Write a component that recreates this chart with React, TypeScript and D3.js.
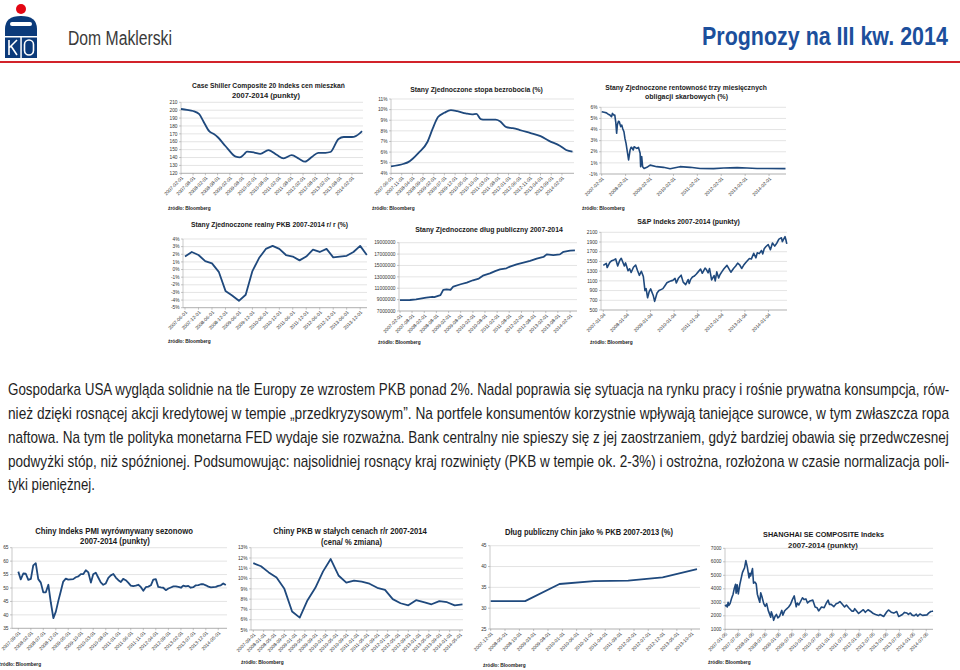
import React, { useLayoutEffect, useRef, useState } from 'react';
import * as d3 from 'd3';

// ---------------- DATA ----------------
// 1. Case Shiller Composite 20
const csDates = ['2007-02-01','2007-05-01','2007-08-01','2007-11-01','2008-01-01','2008-04-01','2008-06-01','2008-08-01','2008-11-01','2009-01-01','2009-05-01','2009-07-01','2009-09-01','2009-10-15','2010-02-01','2010-05-01','2010-09-01','2011-01-01','2011-04-15','2011-08-15','2011-12-01','2012-03-01','2012-06-15','2012-09-15','2013-01-01','2013-03-15','2013-07-15','2013-10-01','2014-02-01','2014-06-01','2014-07-01'];
const csValues = [201.5,200.5,199,195,186,173,170,166,157,151,141,140.3,144,147.5,146.3,144.5,149.5,143.5,139,143,138.5,134.8,141,146,146,147,163.5,166,166,171,173.5];
const csXLabels = ['2007-02-01','2007-08-01','2008-02-01','2008-08-01','2009-02-01','2009-08-01','2010-02-01','2010-08-01','2011-02-01','2011-08-01','2012-02-01','2012-08-01','2013-02-01','2013-08-01','2014-02-01'];
const csYTicks = [120,130,140,150,160,170,180,190,200,210];

// 2. Unemployment
const unDates = ['2007-06-01','2007-12-01','2008-02-01','2008-04-01','2008-07-01','2008-11-01','2009-01-15','2009-04-01','2009-07-01','2009-10-01','2010-01-01','2010-05-01','2010-08-01','2010-10-01','2010-12-01','2011-02-01','2011-07-01','2011-09-01','2011-12-01','2012-03-01','2012-06-01','2012-11-01','2013-04-01','2013-08-01','2014-01-01','2014-04-01','2014-07-01'];
const unValues = [4.65,4.9,5.05,5.35,5.95,6.95,8.2,9.3,9.7,9.95,9.85,9.65,9.55,9.6,9.1,9.05,9.05,8.9,8.35,8.25,8.1,7.8,7.5,7.05,6.6,6.2,6.05];
const unXLabels = ['2007-06-01','2007-11-01','2008-04-01','2008-09-01','2009-02-01','2009-07-01','2009-12-01','2010-05-01','2010-10-01','2011-03-01','2011-08-01','2012-01-01','2012-06-01','2012-11-01','2013-04-01','2013-09-01','2014-02-01'];
const unYTicks = [4,5,6,7,8,9,10,11];

// 3. 3M treasury bills (positions on the printed grid)
const tbDates = ['2007-02-01','2007-03-10','2007-04-15','2007-05-20','2007-06-07','2007-07-01','2007-07-15','2007-08-05','2007-08-20','2007-09-05','2007-09-17','2007-09-28','2007-10-15','2007-10-28','2007-11-18','2007-12-05','2007-12-18','2008-01-07','2008-01-22','2008-02-08','2008-02-28','2008-03-18','2008-04-10','2008-04-25','2008-05-04','2008-05-28','2008-06-10','2008-06-25','2008-07-20','2008-08-15','2008-09-10','2008-09-18','2008-10-04','2008-10-18','2008-11-10','2008-12-22','2009-02-10','2009-05-22','2009-09-01','2009-12-12','2010-05-12','2010-10-15','2011-03-15','2011-10-07','2012-03-10','2012-10-01','2013-03-01','2013-08-01','2014-01-01','2014-10-10'];
const tbValues = [5.6,5.55,5.5,5.35,5.3,5.15,5.45,5.3,5.3,4.6,3.66,4.4,4.75,4.7,4.26,4.4,4.1,3.8,3.2,2.76,2.0,1.26,2.16,2.4,2.4,2.16,2.45,2.4,2.3,2.4,1.86,0.66,1.56,0.66,0.5,0.6,0.8,0.66,0.6,0.48,0.66,0.6,0.5,0.48,0.54,0.57,0.54,0.5,0.5,0.48];
const tbXLabels = ['2007-02-01','2008-02-01','2009-02-01','2010-02-01','2011-02-01','2012-02-01','2013-02-01','2014-02-01'];
const tbYTicks = [0,1,2,3,4,5,6];
const tbYLabels = ['-1%','1%','2%','3%','4%','5%','6%'];

// 4. US real GDP y/y (quarterly)
const gdpDates = ['2007-06-01','2007-09-01','2007-12-01','2008-03-01','2008-06-01','2008-09-01','2008-12-01','2009-03-01','2009-06-01','2009-09-01','2009-12-01','2010-03-01','2010-06-01','2010-09-01','2010-12-01','2011-03-01','2011-06-01','2011-09-01','2011-12-01','2012-03-01','2012-06-01','2012-09-01','2012-12-01','2013-03-01','2013-06-01','2013-09-01','2013-12-01','2014-03-01'];
const gdpValues = [1.7,2.3,1.9,1.1,0.8,-0.3,-2.8,-3.4,-4.1,-3.3,-0.2,1.5,2.7,3.1,2.7,1.9,1.7,1.2,1.7,2.6,2.3,2.7,1.6,1.7,1.8,2.3,3.1,1.9];
const gdpXLabels = ['2007-06-01','2007-12-01','2008-06-01','2008-12-01','2009-06-01','2009-12-01','2010-06-01','2010-12-01','2011-06-01','2011-12-01','2012-06-01','2012-12-01','2013-06-01','2013-12-01'];
const gdpYTicks = [-5,-4,-3,-2,-1,0,1,2,3,4];

// 5. US public debt (millions of millions)
const debtDates = ['2007-02-01','2007-07-01','2007-10-01','2008-03-01','2008-06-01','2008-07-01','2008-10-01','2008-11-12','2009-01-01','2009-03-01','2009-04-12','2009-08-01','2009-11-01','2010-02-01','2010-05-01','2010-07-01','2010-10-15','2011-01-01','2011-03-15','2011-06-20','2011-08-12','2011-11-20','2012-03-01','2012-06-10','2012-09-18','2012-12-28','2013-02-15','2013-05-25','2013-09-01','2013-10-25','2014-02-01','2014-04-15'];
const debtValues = [8.9,8.93,9.05,9.34,9.5,9.45,9.8,10.7,10.8,10.7,11.3,11.7,12.0,12.4,12.7,13.2,13.6,14.0,14.3,14.5,14.8,15.2,15.5,15.8,16.2,16.5,16.95,16.83,16.95,17.4,17.6,17.65];
const debtXLabels = ['2007-02-01','2007-08-01','2008-02-01','2008-08-01','2009-02-01','2009-08-01','2010-02-01','2010-08-01','2011-02-01','2011-08-01','2012-02-01','2012-08-01','2013-02-01','2013-08-01','2014-02-01'];
const debtYTicks = [7,9,11,13,15,17,19];
const debtYLabels = ['7000000','9000000','11000000','13000000','15000000','17000000','19000000'];

// 6. S&P 500
const spDates = ['2007-01-04','2007-02-20','2007-03-05','2007-04-15','2007-05-15','2007-06-15','2007-07-15','2007-08-15','2007-09-15','2007-10-09','2007-11-26','2007-12-15','2008-01-22','2008-02-15','2008-03-10','2008-04-15','2008-05-19','2008-06-15','2008-07-15','2008-08-15','2008-09-15','2008-10-10','2008-10-28','2008-11-20','2008-12-15','2009-01-06','2009-02-15','2009-03-09','2009-04-15','2009-05-15','2009-06-15','2009-07-15','2009-08-15','2009-09-15','2009-10-15','2009-11-15','2009-12-15','2010-01-19','2010-02-08','2010-03-15','2010-04-23','2010-05-25','2010-07-02','2010-08-09','2010-08-26','2010-09-15','2010-10-15','2010-11-15','2010-12-15','2011-01-15','2011-02-18','2011-03-16','2011-04-29','2011-05-15','2011-06-15','2011-07-07','2011-08-08','2011-09-15','2011-10-03','2011-10-27','2011-11-25','2011-12-15','2012-01-15','2012-02-15','2012-04-02','2012-06-01','2012-07-15','2012-08-15','2012-09-14','2012-10-15','2012-11-15','2012-12-15','2013-01-15','2013-02-15','2013-03-15','2013-04-15','2013-05-21','2013-06-24','2013-07-15','2013-08-15','2013-09-18','2013-10-08','2013-10-30','2013-11-27','2013-12-31','2014-02-03','2014-03-07','2014-04-11','2014-05-15','2014-06-15','2014-07-24','2014-08-07','2014-09-18','2014-10-01','2014-10-15'];
const spValues = [1418,1459,1374,1480,1515,1530,1552,1406,1520,1565,1407,1470,1310,1350,1273,1380,1426,1320,1214,1298,1190,899,940,752,880,935,800,677,850,900,920,940,1000,1060,1080,1100,1110,1150,1057,1160,1217,1074,1022,1127,1047,1125,1180,1200,1242,1290,1343,1256,1363,1340,1265,1353,1119,1210,1099,1285,1159,1225,1290,1350,1419,1278,1360,1405,1466,1430,1355,1420,1472,1520,1560,1552,1669,1573,1680,1661,1725,1655,1763,1807,1848,1741,1878,1815,1880,1960,1987,1909,2011,1946,1862];
const spXLabels = ['2007-01-04','2008-01-04','2009-01-04','2010-01-04','2011-01-04','2012-01-04','2013-01-04','2014-01-04'];
const spYTicks = [500,700,900,1100,1300,1500,1700,1900,2100];

// 7. China PMI (monthly from 2007-09)
const pmiStart = '2007-09-01';
const pmiValues = [56.1,53.2,55.4,55.3,
  53.0,53.4,58.4,59.2,53.3,52.0,48.4,48.4,51.2,44.6,38.8,41.2,
  45.3,49.0,52.4,53.5,53.1,53.2,53.3,54.0,54.3,55.2,55.2,56.6,
  55.8,52.0,55.1,55.7,53.9,52.1,51.2,51.7,53.8,54.7,55.2,53.9,
  52.9,52.2,53.4,52.9,52.0,50.9,50.7,50.9,51.2,50.4,49.0,50.3,
  50.5,51.0,53.1,53.3,50.4,50.2,50.1,49.2,49.8,50.2,50.6,50.6,
  50.4,50.1,50.9,50.6,50.8,50.1,50.3,51.0,51.1,51.4,51.4,51.0,
  50.5,50.2,50.3,50.4,50.8,51.0,51.7,51.1];
const pmiXLabels = ['2007-09-01','2008-02-01','2008-07-01','2008-12-01','2009-05-01','2009-10-01','2010-03-01','2010-08-01','2011-01-01','2011-06-01','2011-11-01','2012-04-01','2012-09-01','2013-02-01','2013-07-01','2013-12-01','2014-05-01'];
const pmiYTicks = [35,40,45,50,55,60,65];

// 8. China GDP y/y (quarterly)
const cgDates = ['2007-09-01','2007-12-01','2008-03-01','2008-06-01','2008-09-01','2008-12-01','2009-03-01','2009-06-01','2009-09-01','2009-12-01','2010-03-01','2010-06-01','2010-09-01','2010-12-01','2011-03-01','2011-06-01','2011-09-01','2011-12-01','2012-03-01','2012-06-01','2012-09-01','2012-12-01','2013-03-01','2013-06-01','2013-09-01','2013-12-01','2014-03-01','2014-06-01'];
const cgValues = [11.5,11.2,10.6,10.1,9.0,6.8,6.2,7.9,9.1,10.7,11.9,10.3,9.6,9.8,9.7,9.5,9.1,8.9,8.0,7.6,7.4,7.9,7.7,7.5,7.8,7.7,7.4,7.5];
const cgXLabels = ['2007-09-01','2008-01-01','2008-05-01','2008-09-01','2009-01-01','2009-05-01','2009-09-01','2010-01-01','2010-05-01','2010-09-01','2011-01-01','2011-05-01','2011-09-01','2012-01-01','2012-05-01','2012-09-01','2013-01-01','2013-05-01','2013-09-01','2014-01-01','2014-05-01'];
const cgYTicks = [5,6,7,8,9,10,11,12,13];

// 9. China public debt % GDP
const cdDates = ['2007-12-01','2008-12-01','2009-12-01','2010-12-01','2011-12-01','2012-12-01','2013-12-01'];
const cdValues = [31.7,31.7,35.8,36.5,36.6,37.4,39.4];
const cdXLabels = ['2007-12-01','2008-05-01','2008-10-01','2009-03-01','2009-08-01','2010-01-01','2010-06-01','2010-11-01','2011-04-01','2011-09-01','2012-02-01','2012-07-01','2012-12-01','2013-05-01','2013-10-01'];
const cdYTicks = [25,30,35,40,45];

// 10. Shanghai SE Composite
const shDates = ['2007-01-05','2007-01-25','2007-02-05','2007-02-16','2007-02-27','2007-03-15','2007-04-05','2007-04-25','2007-05-10','2007-05-29','2007-06-05','2007-06-20','2007-07-05','2007-07-25','2007-08-10','2007-08-30','2007-09-15','2007-09-28','2007-10-16','2007-11-05','2007-11-28','2007-12-10','2007-12-20','2008-01-14','2008-01-28','2008-02-15','2008-03-05','2008-03-20','2008-04-22','2008-05-05','2008-05-20','2008-06-15','2008-07-05','2008-07-25','2008-08-15','2008-09-18','2008-09-26','2008-10-15','2008-10-28','2008-11-15','2008-12-05','2008-12-25','2009-01-15','2009-02-16','2009-03-02','2009-03-25','2009-04-20','2009-05-20','2009-06-15','2009-07-10','2009-08-04','2009-08-31','2009-09-15','2009-10-05','2009-11-24','2009-12-15','2010-01-10','2010-02-01','2010-03-05','2010-04-14','2010-05-15','2010-06-10','2010-07-02','2010-08-10','2010-09-15','2010-10-15','2010-11-08','2010-11-25','2010-12-20','2011-01-25','2011-02-25','2011-03-25','2011-04-18','2011-05-20','2011-06-20','2011-07-15','2011-08-15','2011-09-26','2011-10-20','2011-11-05','2011-12-28','2012-01-15','2012-03-01','2012-03-28','2012-05-04','2012-06-15','2012-07-15','2012-08-15','2012-09-25','2012-10-15','2012-12-03','2013-01-15','2013-02-06','2013-03-15','2013-04-20','2013-05-29','2013-06-25','2013-07-15','2013-08-15','2013-09-12','2013-10-15','2013-11-05','2013-12-01','2013-12-25','2014-01-20','2014-02-20','2014-03-11','2014-04-10','2014-05-15','2014-06-15','2014-07-15','2014-08-10','2014-09-05','2014-09-25','2014-10-05'];
const shValues = [2715,2800,2650,2998,2771,2900,3300,3600,4000,4334,3670,4300,3615,4300,4700,5200,5400,5550,6092,5600,4803,5150,4950,5497,4420,4500,4350,3600,3000,3700,3450,2900,2700,2900,2400,1900,2300,2000,1664,1950,2100,1850,1950,2400,2050,2350,2500,2650,2850,3200,3471,2667,2950,2800,3338,3200,3250,2950,3100,3160,2650,2600,2363,2650,2600,2950,3159,2850,2850,2680,2900,2950,3057,2850,2650,2800,2600,2350,2350,2530,2170,2250,2450,2260,2450,2300,2170,2100,2020,2100,1950,2300,2430,2270,2200,2320,1950,2000,2100,2250,2200,2110,2210,2050,2000,2120,1974,2130,2030,2050,2070,2220,2320,2340,2360];
const shXLabels = ['2007-01-05','2007-07-05','2008-01-05','2008-07-05','2009-01-05','2009-07-05','2010-01-05','2010-07-05','2011-01-05','2011-07-05','2012-01-05','2012-07-05','2013-01-05','2013-07-05','2014-01-05','2014-07-05'];
const shYTicks = [1000,2000,3000,4000,5000,6000,7000];

const paragraph = [
  'Gospodarka USA wygląda solidnie na tle Europy ze wzrostem PKB ponad 2%. Nadal poprawia się sytuacja na rynku pracy i rośnie prywatna konsumpcja, rów-',
  'nież dzięki rosnącej akcji kredytowej w tempie „przedkryzysowym”. Na portfele konsumentów korzystnie wpływają taniejące surowce, w tym zwłaszcza ropa',
  'naftowa. Na tym tle polityka monetarna FED wydaje sie rozważna. Bank centralny nie spieszy się z jej zaostrzaniem, gdyż bardziej obawia się przedwczesnej',
  'podwyżki stóp, niż spóźnionej. Podsumowując: najsolidniej rosnący kraj rozwinięty (PKB w tempie ok. 2-3%) i ostrożna, rozłożona w czasie normalizacja poli-',
  'tyki pieniężnej.',
];

// ---------------- LAYOUT ----------------
const parse = d3.timeParse('%Y-%m-%d');
const P = (s: string | Date): Date => (s instanceof Date ? s : parse(s)!);

const BLUE = '#1f497d';
const GRID = '#d9d9d9';
const ARIAL = "'Liberation Sans', Arial, sans-serif";
const NARROW = "'Liberation Sans Narrow', 'Arial Narrow', 'Liberation Sans', sans-serif";

// Text squeezed horizontally to a measured target width (via transform, so its box is honest)
function FitText(props: {
  x: number; y: number; w: number; anchor?: 'start' | 'middle' | 'end';
  size: number; family: string; weight?: string; fill: string; children: string;
}) {
  const ref = useRef<SVGTextElement>(null);
  const [k, setK] = useState(1);
  useLayoutEffect(() => {
    if (ref.current) {
      const n = ref.current.getComputedTextLength();
      if (n > 0) setK(props.w / n);
    }
  }, [props.w, props.children, props.size, props.family]);
  return (
    <text ref={ref} transform={`translate(${props.x},${props.y}) scale(${k},1)`}
      textAnchor={props.anchor ?? 'start'} fontFamily={props.family} fontWeight={props.weight ?? 'normal'}
      fontSize={props.size} fill={props.fill}>{props.children}</text>
  );
}

type Title = { t: string; x: number; y: number; w: number };
interface Spec {
  dates: (string | Date)[];
  values: number[];
  xLabels: string[];
  domain: [string, string];
  xr: [number, number];
  gx: [number, number];
  yr: [number, number];
  yDomain: [number, number];
  yTicks: number[];
  yLabels: string[];
  titles: Title[];
  titleFont: string;
  titleSize: number;
  source: [number, number];
  smooth?: boolean;
  sw?: number;
}

const pct = (a: number[]) => a.map((v) => `${v}%`);
const str = (a: number[]) => a.map((v) => `${v}`);

const specs: Spec[] = [
  {
    dates: csDates, values: csValues, xLabels: csXLabels,
    domain: ['2007-02-01', '2014-07-01'], xr: [181, 362], gx: [181, 363], yr: [102.3, 173.3],
    yDomain: [120, 210], yTicks: csYTicks, yLabels: str(csYTicks),
    titles: [{ t: 'Case Shiller Composite 20  Indeks cen mieszkań', x: 268.5, y: 88, w: 153 }, { t: '2007-2014 (punkty)', x: 266, y: 97.5, w: 68 }],
    titleFont: NARROW, titleSize: 8, source: [168, 209.5], smooth: true,
  },
  {
    dates: unDates, values: unValues, xLabels: unXLabels,
    domain: ['2007-06-01', '2014-07-01'], xr: [391, 572.5], gx: [391, 574], yr: [99, 173.3],
    yDomain: [4, 11], yTicks: unYTicks, yLabels: pct(unYTicks),
    titles: [{ t: 'Stany Zjednoczone stopa bezrobocia (%)', x: 476.5, y: 91.5, w: 133 }],
    titleFont: ARIAL, titleSize: 6.5, source: [372, 209.5], smooth: true,
  },
  {
    dates: tbDates, values: tbValues, xLabels: tbXLabels,
    domain: ['2007-02-01', '2014-10-10'], xr: [601.7, 785.5], gx: [601, 786], yr: [107.3, 174],
    yDomain: [0, 6], yTicks: tbYTicks, yLabels: tbYLabels,
    titles: [{ t: 'Stany Zjednoczone rentowność trzy miesięcznych', x: 686, y: 90, w: 162 }, { t: 'obligacji skarbowych (%)', x: 686.5, y: 99, w: 83 }],
    titleFont: NARROW, titleSize: 8, source: [582, 209.5], sw: 1.6,
  },
  {
    dates: gdpDates, values: gdpValues, xLabels: gdpXLabels,
    domain: ['2007-06-01', '2014-03-01'], xr: [185, 366.8], gx: [183, 367], yr: [239, 307.7],
    yDomain: [-5, 4], yTicks: gdpYTicks, yLabels: pct(gdpYTicks),
    titles: [{ t: 'Stany Zjednoczone realny PKB 2007-2014 r/ r (%)', x: 269.5, y: 226.5, w: 157 }],
    titleFont: ARIAL, titleSize: 6.5, source: [168, 343],
  },
  {
    dates: debtDates, values: debtValues, xLabels: debtXLabels,
    domain: ['2007-02-01', '2014-05-01'], xr: [400, 576], gx: [399, 577], yr: [242.7, 311],
    yDomain: [7, 19], yTicks: debtYTicks, yLabels: debtYLabels,
    titles: [{ t: 'Stany Zjednoczone dług publiczny 2007-2014', x: 489, y: 232, w: 148 }],
    titleFont: NARROW, titleSize: 8, source: [378, 344],
  },
  {
    dates: spDates, values: spValues, xLabels: spXLabels,
    domain: ['2007-01-04', '2014-10-15'], xr: [603.3, 786.8], gx: [601, 787], yr: [232.3, 310],
    yDomain: [500, 2100], yTicks: spYTicks, yLabels: str(spYTicks),
    titles: [{ t: 'S&P Indeks 2007-2014 (punkty)', x: 688.5, y: 224, w: 103 }],
    titleFont: ARIAL, titleSize: 7, source: [590, 343.5], sw: 1.6,
  },
  {
    dates: d3.timeMonth.range(P(pmiStart), d3.timeMonth.offset(P(pmiStart), pmiValues.length)), values: pmiValues, xLabels: pmiXLabels,
    domain: ['2007-09-01', '2014-08-01'], xr: [18.3, 225.8], gx: [12, 227], yr: [547.7, 628.3],
    yDomain: [35, 65], yTicks: pmiYTicks, yLabels: str(pmiYTicks),
    titles: [{ t: 'Chiny Indeks PMI wyrównywany sezonowo', x: 114, y: 533.5, w: 158 }, { t: '2007-2014 (punkty)', x: 115, y: 544, w: 70 }],
    titleFont: NARROW, titleSize: 8.5, source: [-1.5, 666],
  },
  {
    dates: cgDates, values: cgValues, xLabels: cgXLabels,
    domain: ['2007-09-01', '2014-06-01'], xr: [253.3, 462.5], gx: [251, 463], yr: [547.7, 630],
    yDomain: [5, 13], yTicks: cgYTicks, yLabels: pct(cgYTicks),
    titles: [{ t: 'Chiny PKB w stałych cenach r/r 2007-2014', x: 350, y: 534, w: 154 }, { t: '(cena/ % zmiana)', x: 351.5, y: 544.5, w: 61 }],
    titleFont: NARROW, titleSize: 8.5, source: [241, 663.5],
  },
  {
    dates: cdDates, values: cdValues, xLabels: cdXLabels,
    domain: ['2007-12-01', '2013-12-01'], xr: [490.7, 697], gx: [490, 700], yr: [545.7, 629],
    yDomain: [25, 45], yTicks: cdYTicks, yLabels: str(cdYTicks),
    titles: [{ t: 'Dług publiczny Chin jako % PKB 2007-2013 (%)', x: 589, y: 535, w: 168 }],
    titleFont: NARROW, titleSize: 8.5, source: [483, 667],
  },
  {
    dates: shDates, values: shValues, xLabels: shXLabels,
    domain: ['2007-01-05', '2014-10-05'], xr: [725, 933], gx: [725, 933], yr: [548.3, 629.3],
    yDomain: [1000, 7000], yTicks: shYTicks, yLabels: str(shYTicks),
    titles: [{ t: 'SHANGHAI SE COMPOSITE Indeks', x: 823.5, y: 536.5, w: 121 }, { t: '2007-2014 (punkty)', x: 823, y: 547.5, w: 70 }],
    titleFont: ARIAL, titleSize: 7, source: [708, 663.5], sw: 1.6,
  },
];

function Chart({ s }: { s: Spec }) {
  const x = d3.scaleTime().domain([P(s.domain[0]), P(s.domain[1])]).range(s.xr);
  const y = d3.scaleLinear().domain(s.yDomain).range([s.yr[1], s.yr[0]]);
  const pts: [Date, number][] = s.dates.map((d, i) => [P(d), s.values[i]]);
  const line = d3
    .line<[Date, number]>()
    .x((d) => x(d[0]))
    .y((d) => y(d[1]))
    .curve(s.smooth ? d3.curveMonotoneX : d3.curveLinear);
  const yb = s.yr[1];
  return (
    <g>
      {s.titles.map((t, i) => (
        <FitText key={i} x={t.x} y={t.y} w={t.w} anchor="middle" family={s.titleFont} weight="bold"
          size={s.titleSize} fill="#1a1a1a">{t.t}</FitText>
      ))}
      {s.yTicks.map((v, i) => (
        <g key={i}>
          <line x1={s.gx[0]} x2={s.gx[1]} y1={y(v)} y2={y(v)} stroke={i === 0 ? '#8c8c8c' : GRID} strokeWidth={0.7} />
          <line x1={s.gx[0] - 2} x2={s.gx[0]} y1={y(v)} y2={y(v)} stroke="#8c8c8c" strokeWidth={0.5} />
          <text x={s.gx[0] - 3.5} y={y(v)} dy="0.35em" textAnchor="end" fontFamily={ARIAL} fontSize={4.8} fill="#333">{s.yLabels[i]}</text>
        </g>
      ))}
      <line x1={s.gx[0]} x2={s.gx[0]} y1={s.yr[0]} y2={yb} stroke="#a6a6a6" strokeWidth={0.6} />
      {s.xLabels.map((l, i) => {
        const tx = x(P(l));
        return (
          <g key={i}>
            <line x1={tx} x2={tx} y1={yb} y2={yb + 2} stroke="#8c8c8c" strokeWidth={0.5} />
            <text transform={`translate(${tx + 1.5},${yb + 4}) rotate(-45)`} textAnchor="end" dy="0.3em"
              fontFamily={ARIAL} fontSize={4.8} fill="#333">{l}</text>
          </g>
        );
      })}
      <path d={line(pts) || ''} fill="none" stroke={BLUE} strokeWidth={s.sw ?? 1.8} strokeLinejoin="round" />
      <text x={s.source[0]} y={s.source[1]} fontFamily={ARIAL} fontWeight="bold" fontSize={4.8} fill="#1a1a1a">źródło: Bloomberg</text>
    </g>
  );
}

function Logo() {
  return (
    <g>
      <circle cx={21} cy={9} r={5} fill="#e30613" />
      <path d="M5,29 Q5,16 21,16 Q37,16 37,29 L37,58 L5,58 Z" fill="#0b3a7a" />
      <rect x={10} y={22} width={22} height={4} rx={2} fill="#fff" />
      <rect x={5} y={36} width={32} height={1.5} fill="#fff" />
      <rect x={20.3} y={37} width={1.5} height={21} fill="#fff" />
      <path d="M9,40 L9,55 M9,48 L17,40 M11,46 L17,55" stroke="#fff" strokeWidth={1.6} fill="none" />
      <rect x={24.5} y={40} width={9} height={15} rx={4.5} stroke="#fff" strokeWidth={1.6} fill="none" />
    </g>
  );
}

export default function App() {
  const lineYs = [395, 419, 443, 466.5, 490];
  return (
    <svg width={960} height={670} viewBox="0 0 960 670"
      style={{ position: 'absolute', left: 0, top: 0, background: '#fff' }}>
      <rect x={0} y={0} width={960} height={670} fill="#fff" />
      <Logo />
      <FitText x={68} y={45} w={104} family={NARROW} size={21} fill="#3a3a3a">Dom Maklerski</FitText>
      <FitText x={702} y={45} w={246} family={NARROW} weight="bold" size={25} fill="#1c4f9c">Prognozy na III kw. 2014</FitText>
      <rect x={0} y={61} width={960} height={2} fill="#d2232a" />
      {specs.map((s, i) => <Chart key={i} s={s} />)}
      {paragraph.map((t, i) => (
        <FitText key={i} x={8} y={lineYs[i]} w={i === paragraph.length - 1 ? 87 : 942}
          family={NARROW} size={16} fill="#1e1e1e">{t}</FitText>
      ))}
    </svg>
  );
}
